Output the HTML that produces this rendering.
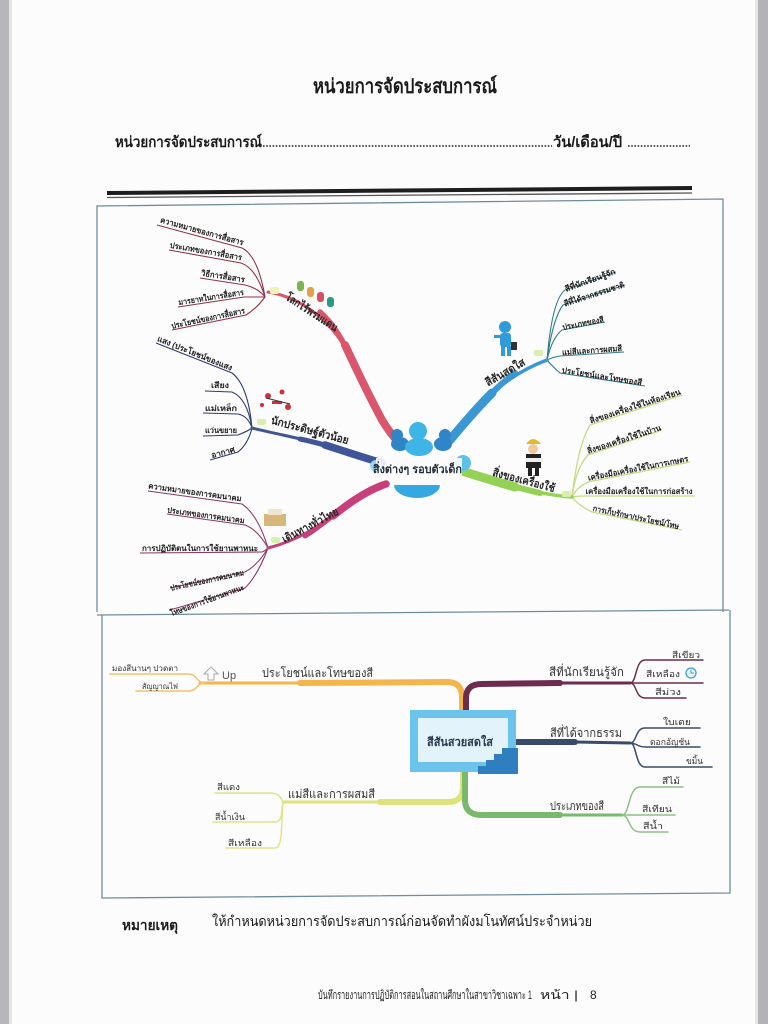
<!DOCTYPE html>
<html><head><meta charset="utf-8">
<style>
html,body{margin:0;padding:0;background:#fff;}
svg{display:block;}
text{font-family:"Liberation Sans","DejaVu Sans","Noto Sans CJK SC",sans-serif;}
</style></head>
<body>
<svg width="768" height="1024" viewBox="0 0 768 1024" xmlns="http://www.w3.org/2000/svg">
<rect x="0" y="0" width="768" height="1024" fill="#fcfcfc"/>
<rect x="0" y="0" width="9" height="1024" fill="#b6b6bb"/>
<rect x="9" y="0" width="3" height="1024" fill="#e4e4e6"/>
<rect x="758" y="0" width="10" height="1024" fill="#b2b2b7"/>
<rect x="755" y="0" width="3" height="1024" fill="#e6e6e8"/>

<!-- header -->
<text x="313" y="93" font-size="20" font-weight="bold" fill="#1a1a1a" textLength="184" lengthAdjust="spacingAndGlyphs">หน่วยการจัดประสบการณ์</text>
<text x="115" y="147" font-size="15" font-weight="bold" fill="#1a1a1a" textLength="147" lengthAdjust="spacingAndGlyphs">หน่วยการจัดประสบการณ์</text>
<line x1="263" y1="146" x2="552" y2="146" stroke="#222" stroke-width="1.6" stroke-dasharray="1.6 1.6"/>
<text x="553" y="147" font-size="15" font-weight="bold" fill="#1a1a1a" textLength="69" lengthAdjust="spacingAndGlyphs">วัน/เดือน/ปี</text>
<line x1="628" y1="146" x2="690" y2="146" stroke="#222" stroke-width="1.6" stroke-dasharray="1.6 1.6"/>
<line x1="107" y1="193" x2="692" y2="188" stroke="#1e1e1e" stroke-width="4"/>
<line x1="107" y1="197.5" x2="692" y2="193" stroke="#555" stroke-width="1.3"/>

<!-- frames -->
<g fill="none" stroke="#6f8c9c" stroke-width="1.3">
<polyline points="97,612 97,206 723,199 723,612"/>
<line x1="97" y1="615" x2="729" y2="610"/>
<polyline points="102,615 102,898 730,893 730,610"/>
</g>

<!-- ===== TOP MINDMAP ===== -->
<g fill="none" stroke="#8c3548" stroke-width="1.1">
<path d="M157,225 L242,248 Q258,256 265,297"/>
<path d="M169,250 L241,263 Q256,268 265,297"/>
<path d="M200,278 L245,285 Q258,288 265,297"/>
<path d="M178,307 L244,297 Q256,297 265,297"/>
<path d="M172,330 L246,315 Q257,308 265,297"/>
</g>
<g fill="none" stroke="#2e3c6e" stroke-width="1.1">
<path d="M156,343 L232,373 Q248,385 252,428"/>
<path d="M205,391 L232,392 Q247,398 252,428"/>
<path d="M203,413 L238,414 Q248,416 252,428"/>
<path d="M203,436 L238,435 Q248,431 252,428"/>
<path d="M210,460 L238,452 Q248,444 252,428"/>
</g>
<g fill="none" stroke="#8a3a6a" stroke-width="1.1">
<path d="M148,491 L242,504 Q258,515 268,548"/>
<path d="M167,514 L245,525 Q258,530 268,548"/>
<path d="M140,553 L262,552 Q265,551 268,548"/>
<path d="M170,588 L245,572 Q258,565 268,548"/>
<path d="M170,610 L245,588 Q258,575 268,548"/>
</g>
<g fill="none" stroke="#2f7d8a" stroke-width="1.1">
<path d="M547,360 Q552,300 565,290 L616,272"/>
<path d="M547,360 Q553,318 563,305 L625,285"/>
<path d="M547,360 Q552,338 562,330 L605,322"/>
<path d="M547,360 Q553,357 560,356 L624,352"/>
<path d="M547,360 Q552,366 560,373 L645,386"/>
</g>
<g fill="none" stroke="#c5dc86" stroke-width="1.3">
<path d="M572,497 Q578,445 590,425 L682,395"/>
<path d="M572,497 Q576,468 588,455 L662,430"/>
<path d="M572,497 Q577,487 588,482 L690,462"/>
<path d="M572,497 Q578,496 585,496 L695,496"/>
<path d="M572,497 Q578,505 592,512 L682,530"/>
</g>

<!-- main branches -->
<g fill="none" stroke-linecap="round">
<path d="M268,292 C305,298 335,325 352,360" stroke="#d9566c" stroke-width="3"/>
<path d="M320,312 C335,325 345,345 352,360" stroke="#d9566c" stroke-width="5.5"/>
<path d="M345,345 C352,360 365,388 382,420 C388,430 393,436 398,442" stroke="#d9566c" stroke-width="8"/>
<path d="M252,428 C285,436 310,440 335,448" stroke="#3f5597" stroke-width="3"/>
<path d="M300,439 C315,442 325,445 335,448" stroke="#3f5597" stroke-width="5"/>
<path d="M325,445 C350,453 368,459 382,463" stroke="#3f5597" stroke-width="7.5"/>
<path d="M268,548 C300,540 320,525 340,510" stroke="#c8407a" stroke-width="3"/>
<path d="M305,536 C318,528 330,518 340,510" stroke="#c8407a" stroke-width="5"/>
<path d="M333,516 C350,502 368,490 386,484" stroke="#c8407a" stroke-width="7.5"/>
<path d="M547,360 C520,370 500,385 485,400" stroke="#3b97d3" stroke-width="3.5"/>
<path d="M515,373 C505,380 495,390 485,400" stroke="#3b97d3" stroke-width="6"/>
<path d="M492,393 C475,410 460,428 450,440" stroke="#3b97d3" stroke-width="9"/>
<path d="M572,497 C545,495 520,488 505,484" stroke="#93d255" stroke-width="3.5"/>
<path d="M540,493 C528,490 515,487 505,484" stroke="#93d255" stroke-width="6"/>
<path d="M515,487 C490,480 475,475 462,471" stroke="#93d255" stroke-width="9"/>
</g>

<!-- node dots -->
<g fill="#eef3b8">
<rect x="270" y="287" width="9" height="7" rx="2"/>
<rect x="257" y="419" width="9" height="6" rx="2" fill="#d8efb0"/>
<rect x="271" y="537" width="9" height="6" rx="2" fill="#d8efb0"/>
<rect x="534" y="350" width="9" height="6" rx="2" fill="#d8efb0"/>
<rect x="562" y="491" width="9" height="6" rx="2" fill="#d8efb0"/>
</g>

<!-- center cluster -->
<ellipse cx="400" cy="444" rx="9" ry="7" fill="#2f85c6"/>
<ellipse cx="443" cy="444" rx="9" ry="7" fill="#2f85c6"/>
<circle cx="397" cy="435" r="6" fill="#2f85c6"/>
<circle cx="445" cy="435" r="6" fill="#2f85c6"/>
<ellipse cx="419" cy="447" rx="14" ry="9" fill="#3fb4e6"/>
<circle cx="418" cy="431" r="9" fill="#3fb4e6"/>
<path d="M394,485 A23,13 0 0 0 440,485 Z" fill="#35a8e2"/>
<circle cx="463" cy="463" r="8" fill="#5fc0ea"/>
<circle cx="376" cy="466" r="6" fill="#9ad6f2"/>
<rect x="376" y="458" width="86" height="20" fill="#fbfbfb" opacity="0.9"/>
<text x="373" y="473" font-size="11" font-weight="bold" fill="#1f2a3a" textLength="89" lengthAdjust="spacingAndGlyphs">สิ่งต่างๆ รอบตัวเด็ก</text>

<!-- icons -->
<g>
<rect x="297" y="281" width="7" height="10" rx="3" fill="#7ab648"/>
<rect x="307" y="287" width="7" height="10" rx="3" fill="#e2a04a"/>
<rect x="317" y="292" width="7" height="10" rx="3" fill="#d8505e"/>
<rect x="327" y="297" width="7" height="10" rx="3" fill="#2a9a82"/>
<g fill="#c9303a"><circle cx="268" cy="396" r="3"/><circle cx="282" cy="392" r="2.5"/><rect x="272" y="401" width="10" height="3"/><circle cx="288" cy="407" r="3"/><circle cx="262" cy="405" r="2"/></g>
<path d="M266,398 L290,404" stroke="#333" stroke-width="1"/>
<rect x="264" y="514" width="22" height="12" fill="#d8b77a"/>
<rect x="268" y="509" width="14" height="6" fill="#f0e6d0"/>
<circle cx="505" cy="327" r="6" fill="#2f9bd8"/>
<rect x="500" y="333" width="11" height="14" rx="3" fill="#2f9bd8"/>
<rect x="501" y="346" width="4" height="10" fill="#2f9bd8"/>
<rect x="507" y="346" width="4" height="10" fill="#2f9bd8"/>
<rect x="494" y="335" width="6" height="3" fill="#2f9bd8"/>
<rect x="511" y="342" width="6" height="8" fill="#333"/>
<path d="M526,444 Q533,434 541,444 Z" fill="#e9b82a"/>
<circle cx="533" cy="449" r="5" fill="#f1c9a0"/>
<rect x="526" y="454" width="15" height="14" fill="#222"/>
<rect x="526" y="458" width="17" height="4" fill="#eee"/>
<rect x="528" y="467" width="4" height="9" fill="#222"/>
<rect x="535" y="467" width="4" height="9" fill="#222"/>
</g>

<!-- branch labels -->
<g font-weight="bold" fill="#262626" font-size="11">
<text transform="translate(312,312) rotate(33)" text-anchor="middle" y="4" textLength="60" lengthAdjust="spacingAndGlyphs">โลกไร้พรมแดน</text>
<text transform="translate(310,430) rotate(15)" text-anchor="middle" y="4" textLength="80" lengthAdjust="spacingAndGlyphs">นักประดิษฐ์ตัวน้อย</text>
<text transform="translate(310,525) rotate(-28)" text-anchor="middle" y="4" textLength="62" lengthAdjust="spacingAndGlyphs">เดินทางทั่วไทย</text>
<text transform="translate(505,372) rotate(-30)" text-anchor="middle" y="4" textLength="44" lengthAdjust="spacingAndGlyphs">สีสันสดใส</text>
<text transform="translate(524,480) rotate(15)" text-anchor="middle" y="4" textLength="64" lengthAdjust="spacingAndGlyphs">สิ่งของเครื่องใช้</text>
</g>

<!-- sub labels -->
<g fill="#1e1e1e" font-size="8" font-weight="bold">
<text transform="translate(202,231) rotate(15.5)" text-anchor="middle" y="3" textLength="86" lengthAdjust="spacingAndGlyphs">ความหมายของการสื่อสาร</text>
<text transform="translate(206,251) rotate(10)" text-anchor="middle" y="3" textLength="73" lengthAdjust="spacingAndGlyphs">ประเภทของการสื่อสาร</text>
<text transform="translate(223,276) rotate(9)" text-anchor="middle" y="3" textLength="44" lengthAdjust="spacingAndGlyphs">วิธีการสื่อสาร</text>
<text transform="translate(211,297) rotate(-9)" text-anchor="middle" y="3" textLength="66" lengthAdjust="spacingAndGlyphs">มารยาทในการสื่อสาร</text>
<text transform="translate(208,318) rotate(-12)" text-anchor="middle" y="3" textLength="75" lengthAdjust="spacingAndGlyphs">ประโยชน์ของการสื่อสาร</text>

<text transform="translate(195,353) rotate(22)" text-anchor="middle" y="3" textLength="80" lengthAdjust="spacingAndGlyphs">แสง (ประโยชน์ของแสง</text>
<text transform="translate(220,385)" text-anchor="middle" y="3" textLength="18" lengthAdjust="spacingAndGlyphs">เสียง</text>
<text transform="translate(221,408)" text-anchor="middle" y="3" textLength="32" lengthAdjust="spacingAndGlyphs">แม่เหล็ก</text>
<text transform="translate(221,430)" text-anchor="middle" y="3" textLength="32" lengthAdjust="spacingAndGlyphs">แว่นขยาย</text>
<text transform="translate(223,452) rotate(-15)" text-anchor="middle" y="3" textLength="24" lengthAdjust="spacingAndGlyphs">อากาศ</text>

<text transform="translate(195,492) rotate(8)" text-anchor="middle" y="3" textLength="94" lengthAdjust="spacingAndGlyphs">ความหมายของการคมนาคม</text>
<text transform="translate(206,515) rotate(8)" text-anchor="middle" y="3" textLength="78" lengthAdjust="spacingAndGlyphs">ประเภทของการคมนาคม</text>
<text transform="translate(200,548)" text-anchor="middle" y="3" textLength="116" lengthAdjust="spacingAndGlyphs">การปฏิบัติตนในการใช้ยานพาหนะ</text>
<text transform="translate(207,580) rotate(-12)" text-anchor="middle" y="3" textLength="75" lengthAdjust="spacingAndGlyphs">ประโยชน์ของการคมนาคม</text>
<text transform="translate(207,600) rotate(-20)" text-anchor="middle" y="3" textLength="78" lengthAdjust="spacingAndGlyphs">โทษของการใช้ยานพาหนะ</text>

<text transform="translate(590,280) rotate(-20)" text-anchor="middle" y="3" textLength="53" lengthAdjust="spacingAndGlyphs">สีที่นักเรียนรู้จัก</text>
<text transform="translate(594,294) rotate(-18)" text-anchor="middle" y="3" textLength="63" lengthAdjust="spacingAndGlyphs">สีที่ได้จากธรรมชาติ</text>
<text transform="translate(583,323) rotate(-11)" text-anchor="middle" y="3" textLength="42" lengthAdjust="spacingAndGlyphs">ประเภทของสี</text>
<text transform="translate(592,350) rotate(-4)" text-anchor="middle" y="3" textLength="60" lengthAdjust="spacingAndGlyphs">แม่สีและการผสมสี</text>
<text transform="translate(602,376) rotate(9)" text-anchor="middle" y="3" textLength="81" lengthAdjust="spacingAndGlyphs">ประโยชน์และโทษของสี</text>

<text transform="translate(635,406) rotate(-18)" text-anchor="middle" y="3" textLength="95" lengthAdjust="spacingAndGlyphs">สิ่งของเครื่องใช้ในห้องเรียน</text>
<text transform="translate(624,439) rotate(-18)" text-anchor="middle" y="3" textLength="77" lengthAdjust="spacingAndGlyphs">สิ่งของเครื่องใช้ในบ้าน</text>
<text transform="translate(638,468) rotate(-11)" text-anchor="middle" y="3" textLength="102" lengthAdjust="spacingAndGlyphs">เครื่องมือเครื่องใช้ในการเกษตร</text>
<text transform="translate(639,491)" text-anchor="middle" y="3" textLength="107" lengthAdjust="spacingAndGlyphs">เครื่องมือเครื่องใช้ในการก่อสร้าง</text>
<text transform="translate(636,517) rotate(12)" text-anchor="middle" y="3" textLength="88" lengthAdjust="spacingAndGlyphs">การเก็บรักษา/ประโยชน์/โทษ</text>
</g>

<!-- ===== BOTTOM MINDMAP ===== -->
<g fill="none" stroke-linecap="round">
<path d="M200,683 L300,683" stroke="#f4b54a" stroke-width="3"/>
<path d="M300,683 L447,682 Q462,682 462,697 L462,712" stroke="#f4b54a" stroke-width="6"/>
<path d="M205,683 C196,683 198,674 188,674 L110,674" stroke="#f4c26a" stroke-width="1.5"/>
<path d="M205,683 C196,683 198,691 188,691 L136,691" stroke="#f4c26a" stroke-width="1.5"/>
<path d="M283,802 L380,802" stroke="#dde27a" stroke-width="3"/>
<path d="M380,802 L448,802 Q463,802 463,787 L463,772" stroke="#dde27a" stroke-width="6"/>
<path d="M283,802 C280,796 278,793 270,793 L215,793" stroke="#dfe48a" stroke-width="1.5"/>
<path d="M283,802 C281,812 283,822 275,822 L213,822" stroke="#dfe48a" stroke-width="1.5"/>
<path d="M283,802 C281,825 283,848 275,848 L226,848" stroke="#dfe48a" stroke-width="1.5"/>
<path d="M466,712 L466,698 Q466,684 482,684 L560,683" stroke="#6d2b4d" stroke-width="6"/>
<path d="M560,683 L630,683" stroke="#6d2b4d" stroke-width="3"/>
<path d="M630,683 C637,683 635,660 645,660 L703,660" stroke="#6d2b4d" stroke-width="1.5"/>
<path d="M630,683 L703,683" stroke="#6d2b4d" stroke-width="1.5"/>
<path d="M630,683 C637,683 635,698 645,698 L686,698" stroke="#6d2b4d" stroke-width="1.5"/>
<path d="M515,742 L575,742" stroke="#3b4a6b" stroke-width="6"/>
<path d="M575,742 L630,743" stroke="#3b4a6b" stroke-width="3"/>
<path d="M630,743 C637,743 635,728 645,728 L700,728" stroke="#3b4a6b" stroke-width="1.5"/>
<path d="M630,743 C637,743 637,747 645,747 L700,747" stroke="#3b4a6b" stroke-width="1.5"/>
<path d="M630,743 C637,743 635,767 645,767 L712,767" stroke="#3b4a6b" stroke-width="1.5"/>
<path d="M465,772 L465,800 Q465,815 482,815 L560,815" stroke="#79b86d" stroke-width="6"/>
<path d="M560,815 L622,815" stroke="#79b86d" stroke-width="3"/>
<path d="M622,815 C630,815 628,787 640,787 L683,787" stroke="#8cc283" stroke-width="1.5"/>
<path d="M622,815 L675,815" stroke="#8cc283" stroke-width="1.5"/>
<path d="M622,815 C630,815 628,832 640,832 L668,832" stroke="#8cc283" stroke-width="1.5"/>
</g>

<rect x="410" y="710" width="106" height="62" fill="#6cc4ec"/>
<rect x="418" y="718" width="90" height="44" fill="#e2f3fb"/>
<path d="M478,772 L478,766 L486,766 L486,760 L494,760 L494,754 L502,754 L502,748 L512,748 L518,748 L518,774 L478,774 Z" fill="#2f7fc0"/>
<text x="427" y="746" font-size="12" font-weight="bold" fill="#2a3a50" textLength="66" lengthAdjust="spacingAndGlyphs">สีสันสวยสดใส</text>

<path d="M208,680 L208,674 L204,674 L211,667 L218,674 L214,674 L214,680 Z" fill="none" stroke="#aaa" stroke-width="1"/>
<text x="222" y="679" font-size="11" fill="#555">Up</text>
<circle cx="691" cy="673" r="5" fill="#e8f4fb" stroke="#3aa0d8" stroke-width="1.3"/>
<path d="M691,670 L691,673 L694,673" stroke="#3aa0d8" stroke-width="1" fill="none"/>

<g fill="#333">
<text x="262" y="677" font-size="12" textLength="111" lengthAdjust="spacingAndGlyphs">ประโยชน์และโทษของสี</text>
<text x="112" y="671" font-size="8" textLength="66" lengthAdjust="spacingAndGlyphs">มองสีนานๆ ปวดตา</text>
<text x="142" y="689" font-size="8" textLength="36" lengthAdjust="spacingAndGlyphs">สัญญาณไฟ</text>
<text x="288" y="798" font-size="12" textLength="87" lengthAdjust="spacingAndGlyphs">แม่สีและการผสมสี</text>
<text x="217" y="790" font-size="9" textLength="23" lengthAdjust="spacingAndGlyphs">สีแดง</text>
<text x="215" y="820" font-size="9" textLength="30" lengthAdjust="spacingAndGlyphs">สีน้ำเงิน</text>
<text x="228" y="846" font-size="9" textLength="34" lengthAdjust="spacingAndGlyphs">สีเหลือง</text>
<text x="549" y="676" font-size="12" textLength="75" lengthAdjust="spacingAndGlyphs">สีที่นักเรียนรู้จัก</text>
<text x="672" y="658" font-size="9" textLength="28" lengthAdjust="spacingAndGlyphs">สีเขียว</text>
<text x="646" y="677" font-size="9" textLength="34" lengthAdjust="spacingAndGlyphs">สีเหลือง</text>
<text x="655" y="695" font-size="9" textLength="26" lengthAdjust="spacingAndGlyphs">สีม่วง</text>
<text x="550" y="737" font-size="12" textLength="72" lengthAdjust="spacingAndGlyphs">สีที่ได้จากธรรม</text>
<text x="663" y="725" font-size="9" textLength="28" lengthAdjust="spacingAndGlyphs">ใบเตย</text>
<text x="650" y="745" font-size="9" textLength="40" lengthAdjust="spacingAndGlyphs">ดอกอัญชัน</text>
<text x="686" y="764" font-size="9" textLength="17" lengthAdjust="spacingAndGlyphs">ขมิ้น</text>
<text x="550" y="810" font-size="12" textLength="54" lengthAdjust="spacingAndGlyphs">ประเภทของสี</text>
<text x="662" y="784" font-size="9" textLength="18" lengthAdjust="spacingAndGlyphs">สีไม้</text>
<text x="642" y="812" font-size="9" textLength="30" lengthAdjust="spacingAndGlyphs">สีเทียน</text>
<text x="643" y="829" font-size="9" textLength="20" lengthAdjust="spacingAndGlyphs">สีน้ำ</text>
</g>

<text x="122" y="930" font-size="14" font-weight="bold" fill="#1a1a1a" textLength="56" lengthAdjust="spacingAndGlyphs">หมายเหตุ</text>
<text x="212" y="926" font-size="14" fill="#1a1a1a" textLength="380" lengthAdjust="spacingAndGlyphs">ให้กำหนดหน่วยการจัดประสบการณ์ก่อนจัดทำผังมโนทัศน์ประจำหน่วย</text>
<text x="318" y="999" font-size="12" fill="#222" textLength="214" lengthAdjust="spacingAndGlyphs">บันทึกรายงานการปฏิบัติการสอนในสถานศึกษาในสาขาวิชาเฉพาะ 1</text>
<text x="540" y="999" font-size="12" fill="#222" textLength="38" lengthAdjust="spacingAndGlyphs">หน้า |</text>
<text x="590" y="999" font-size="12" fill="#222">8</text>
</svg>
</body></html>
